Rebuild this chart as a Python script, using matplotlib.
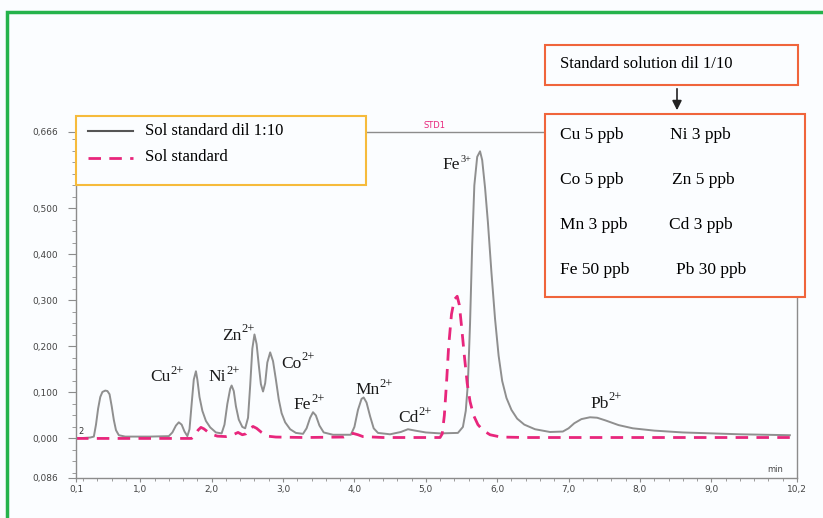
import matplotlib
matplotlib.use('Agg')
import matplotlib.pyplot as plt
from matplotlib.patches import Rectangle, FancyArrowPatch
from matplotlib.lines import Line2D
from matplotlib.ticker import FixedLocator, MultipleLocator

# retention time (min) / signal
t_dil = [0.10, 0.30, 0.35, 0.38, 0.41, 0.44, 0.47, 0.51, 0.54, 0.57, 0.60, 0.63, 0.66, 0.70,
         0.79, 1.14, 1.40, 1.45, 1.50, 1.54, 1.58, 1.62, 1.66, 1.69, 1.72, 1.75, 1.78, 1.80,
         1.83, 1.87, 1.92, 1.98, 2.06, 2.14, 2.18, 2.22, 2.26, 2.28, 2.31, 2.34, 2.38, 2.43,
         2.47, 2.51, 2.54, 2.57, 2.60, 2.63, 2.66, 2.69, 2.72, 2.75, 2.78, 2.82, 2.86, 2.90,
         2.94, 2.98, 3.03, 3.10, 3.18, 3.28, 3.33, 3.38, 3.42, 3.46, 3.51, 3.57, 3.70, 3.95,
         4.00, 4.05, 4.10, 4.13, 4.17, 4.22, 4.27, 4.33, 4.50, 4.65, 4.75, 4.85, 5.00, 5.20,
         5.45, 5.52, 5.56, 5.59, 5.62, 5.65, 5.68, 5.72, 5.76, 5.79, 5.83, 5.87, 5.92, 5.97,
         6.02, 6.07, 6.13, 6.20, 6.28, 6.38, 6.53, 6.74, 6.92, 7.00, 7.08, 7.18, 7.30, 7.40,
         7.52, 7.70, 7.90, 8.20, 8.60, 9.40, 10.10]
v_dil = [0.000, 0.002, 0.004, 0.030, 0.065, 0.090, 0.101, 0.104, 0.103, 0.096, 0.070, 0.040,
         0.018, 0.007, 0.004, 0.004, 0.005, 0.013, 0.028, 0.035, 0.030, 0.015, 0.005, 0.020,
         0.075, 0.128, 0.146, 0.128, 0.090, 0.060, 0.038, 0.024, 0.013, 0.011, 0.030, 0.075,
         0.108, 0.115, 0.103, 0.070, 0.041, 0.025, 0.022, 0.045, 0.115, 0.195, 0.226, 0.205,
         0.160, 0.118, 0.102, 0.120, 0.165, 0.187, 0.168, 0.128, 0.085, 0.055, 0.035, 0.020,
         0.012, 0.010, 0.022, 0.045, 0.057, 0.050, 0.028, 0.013, 0.008, 0.008, 0.025, 0.062,
         0.086, 0.089, 0.078, 0.048, 0.022, 0.012, 0.009, 0.014, 0.020, 0.017, 0.013, 0.011,
         0.012, 0.025, 0.060, 0.120, 0.250, 0.420, 0.550, 0.612, 0.624, 0.605, 0.545, 0.470,
         0.360, 0.260, 0.180, 0.125, 0.088, 0.062, 0.043, 0.030, 0.020, 0.014, 0.015, 0.022,
         0.033, 0.042, 0.046, 0.045, 0.039, 0.029, 0.022, 0.017, 0.013, 0.009, 0.007]

t_std = [0.10, 1.72, 1.76, 1.81, 1.85, 1.89, 1.94, 2.00, 2.08, 2.20, 2.30, 2.37, 2.43, 2.48,
         2.54, 2.58, 2.63, 2.70, 2.78, 2.90, 3.30, 3.85, 3.93, 3.98, 4.05, 4.12, 4.40, 5.20,
         5.23, 5.26, 5.29, 5.32, 5.36, 5.40, 5.44, 5.47, 5.50, 5.54, 5.58, 5.62, 5.67, 5.73,
         5.80, 5.90, 6.05, 6.40, 10.10]
v_std = [0.000, 0.000, 0.006, 0.018, 0.024, 0.021, 0.015, 0.009, 0.005, 0.004, 0.008, 0.013,
         0.008, 0.010, 0.022, 0.026, 0.022, 0.013, 0.005, 0.003, 0.002, 0.003, 0.008, 0.011,
         0.008, 0.004, 0.002, 0.002, 0.010, 0.050, 0.120, 0.200, 0.270, 0.302, 0.309, 0.290,
         0.245, 0.180, 0.120, 0.080, 0.050, 0.030, 0.018, 0.008, 0.003, 0.002, 0.002]

peak_names = ['Cu', 'Ni', 'Zn', 'Co', 'Fe', 'Mn', 'Cd', 'Fe', 'Pb']
peak_charge = ['2+', '2+', '2+', '2+', '2+', '2+', '2+', '3+', '2+']
label_t = [1.14, 1.95, 2.14, 2.97, 3.15, 4.01, 4.61, 5.23, 7.30]
label_v = [0.124, 0.124, 0.215, 0.154, 0.063, 0.096, 0.035, 0.585, 0.067]

x_ticks = [0.1, 1, 2, 3, 4, 5, 6, 7, 8, 9, 10.2]
x_labels = ['0,1', '1,0', '2,0', '3,0', '4,0', '5,0', '6,0', '7,0', '8,0', '9,0', '10,2']
y_ticks = [-0.086, 0.0, 0.1, 0.2, 0.3, 0.4, 0.5, 0.666]
y_labels = ['0,086', '0,000', '0,100', '0,200', '0,300', '0,400', '0,500', '0,666']

conc_left = ['Cu 5 ppb', 'Co 5 ppb', 'Mn 3 ppb', 'Fe 50 ppb']
conc_right = ['Ni 3 ppb', 'Zn 5 ppb', 'Cd 3 ppb', 'Pb 30 ppb']

serif = 'Liberation Serif'
gray = '#8f8f8f'
pink = '#e8267c'
orange = '#f0653c'
bg = '#fbfdff'

W, H = 823, 518
def fx(x):
    return x / W
def fy(y):
    return 1 - y / H

fig = plt.figure(figsize=(W / 100, H / 100), dpi=100)
fig.patch.set_facecolor(bg)
ax = fig.add_axes([fx(76), fy(478), fx(797) - fx(76), fy(132) - fy(478)])
ax.set_facecolor('none')

ax.plot(t_dil, v_dil, color=gray, lw=1.4, solid_joinstyle='round')
ax.plot(t_std, v_std, color=pink, lw=2.0, dashes=(4.5, 3))

ax.set_xlim(0.1, 10.2)
ax.set_ylim(-0.086, 0.666)

for s in ax.spines.values():
    s.set_color('#8c8c8c')
    s.set_linewidth(1.0)

ax.xaxis.set_major_locator(FixedLocator(x_ticks))
ax.set_xticklabels(x_labels)
ax.xaxis.set_minor_locator(MultipleLocator(0.2))
ax.yaxis.set_major_locator(FixedLocator(y_ticks))
ax.set_yticklabels(y_labels)
ax.yaxis.set_minor_locator(MultipleLocator(0.025))
ax.tick_params(axis='x', which='major', length=3, pad=2, labelsize=6.5, colors='#8c8c8c',
               labelcolor='#444444')
ax.tick_params(axis='x', which='minor', length=2, colors='#8c8c8c')
ax.tick_params(axis='y', which='major', length=6, pad=7, labelsize=6.5, colors='#8c8c8c',
               labelcolor='#444444')
ax.tick_params(axis='y', which='minor', length=3, colors='#8c8c8c')

# peak labels with small superscript charge
renderer = fig.canvas.get_renderer()
for name, ch, tx, vy in zip(peak_names, peak_charge, label_t, label_v):
    txt = ax.text(tx, vy, name, family=serif, fontsize=12.5, color='#1a1a1a',
                  ha='left', va='baseline')
    w = txt.get_window_extent(renderer).width * 72 / fig.dpi
    sup_size = 7.5 if ch == '3+' else 9
    ax.annotate(ch, xy=(tx, vy), xycoords='data', xytext=(w + 0.3, 5.5),
                textcoords='offset points', family=serif, fontsize=sup_size,
                color='#1a1a1a', ha='left', va='baseline')

ax.text(0.13, 0.006, '2', fontsize=6, color='#333333', ha='left', va='bottom')
fig.text(fx(775), fy(470), 'min', fontsize=6, color='#444444', ha='center', va='center')
fig.text(fx(435), fy(126), 'STD1', fontsize=6, color=pink, ha='center', va='center')

# outer green frame
fig.add_artist(Rectangle((fx(7), -0.05), 1.2, fy(12) + 0.05, transform=fig.transFigure,
                         fill=False, edgecolor='#25b34b', lw=2.5, zorder=6))

# legend box
fig.add_artist(Rectangle((fx(76), fy(185)), fx(366) - fx(76), fy(116) - fy(185),
                         transform=fig.transFigure, facecolor=bg,
                         edgecolor='#f6bb3c', lw=1.5, zorder=5))
fig.add_artist(Line2D([fx(88), fx(133)], [fy(131), fy(131)], transform=fig.transFigure,
                      color='#555555', lw=1.5, zorder=6))
fig.add_artist(Line2D([fx(88), fx(133)], [fy(158), fy(158)], transform=fig.transFigure,
                      color=pink, lw=2.0, dashes=(4.5, 3), zorder=6))
fig.text(fx(145), fy(131), 'Sol standard dil 1:10', family=serif, fontsize=12,
         va='center', zorder=7)
fig.text(fx(145), fy(157), 'Sol standard', family=serif, fontsize=12, va='center', zorder=7)

# concentration boxes
fig.add_artist(Rectangle((fx(545), fy(85)), fx(798) - fx(545), fy(45) - fy(85),
                         transform=fig.transFigure, facecolor=bg,
                         edgecolor=orange, lw=1.5, zorder=5))
fig.text(fx(560), fy(64), 'Standard solution dil 1/10', family=serif, fontsize=12,
         va='center', zorder=7)
fig.add_artist(FancyArrowPatch((fx(677), fy(86)), (fx(677), fy(113)),
                               transform=fig.transFigure, arrowstyle='-|>',
                               mutation_scale=14, color='#222222', lw=1.2, zorder=7))
fig.add_artist(Rectangle((fx(545), fy(297)), fx(805) - fx(545), fy(114) - fy(297),
                         transform=fig.transFigure, facecolor=bg,
                         edgecolor=orange, lw=1.5, zorder=5))
rows_y = [135, 180, 225, 270]
right_x = [670, 672, 669, 676]
for ly, lt, rx, rt in zip(rows_y, conc_left, right_x, conc_right):
    fig.text(fx(560), fy(ly), lt, family=serif, fontsize=12.5, va='center', zorder=7)
    fig.text(fx(rx), fy(ly), rt, family=serif, fontsize=12.5, va='center', zorder=7)

fig.savefig('out.png', dpi=100, facecolor=fig.get_facecolor())
